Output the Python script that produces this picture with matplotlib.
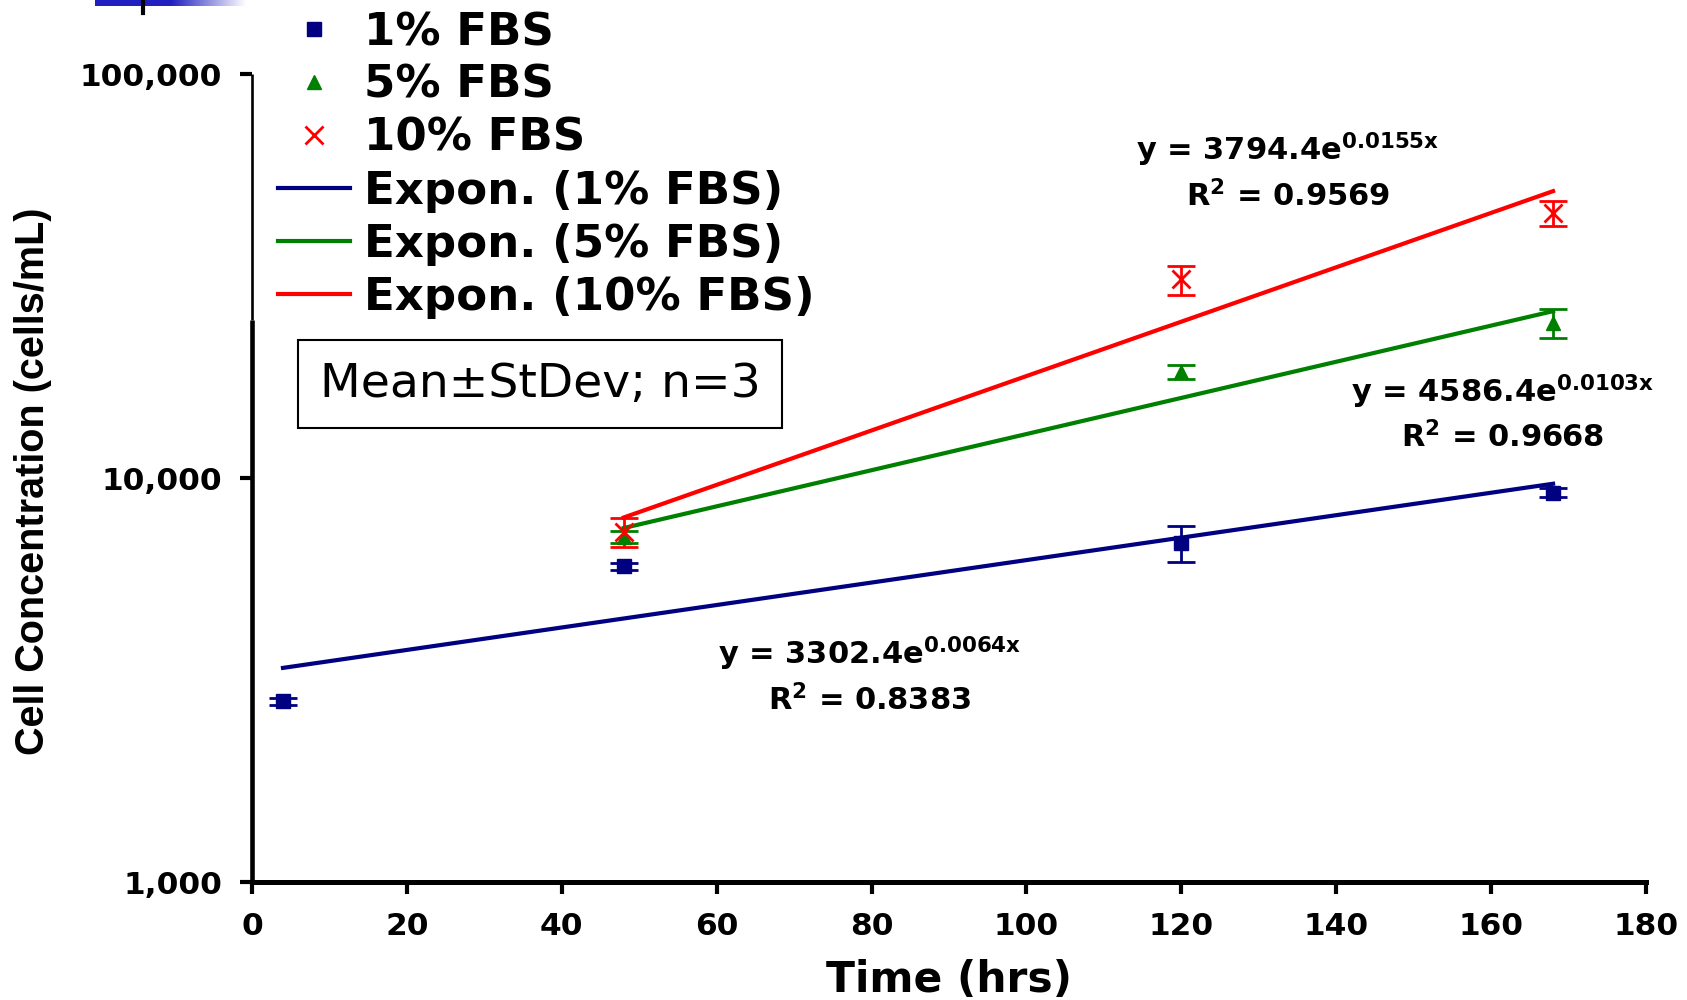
import numpy as np
import matplotlib
matplotlib.use("Agg")
import matplotlib.pyplot as plt
from matplotlib.colors import LinearSegmentedColormap

plt.rcParams['font.family'] = ['DejaVu Sans']
plt.rcParams['mathtext.fontset'] = 'dejavusans'

# measured cell concentrations (mean and stdev, n=3)
time_1 = [4, 48, 120, 168]
mean_1 = [2800, 6050, 6900, 9200]
sd_1 = [60, 120, 700, 250]

time_5 = [48, 120, 168]
mean_5 = [7150, 18300, 24200]
sd_5 = [250, 700, 2000]

time_10 = [48, 120, 168]
mean_10 = [7350, 31000, 45300]
sd_10 = [600, 2550, 3200]

# exponential trendlines as printed on the chart: y = a*exp(b*x)
fit_a = [3302.4, 4586.4, 3794.4]
fit_b = [0.0064, 0.0103, 0.0155]
fit_r2 = [0.8383, 0.9668, 0.9569]
fit_start = [4, 48, 48]
fit_end = [168, 168, 168]

labels = ['1% FBS', '5% FBS', '10% FBS']
colors = ['#000080', '#008000', '#FF0000']
markers = ['s', '^', 'x']

W, H = 1687, 1000
fig = plt.figure(figsize=(W / 100, H / 100), dpi=100)
# axes box: x 0..180 -> px 252..1646, y 1e3..1e5 -> px 882..74
ax = fig.add_axes([252 / W, 1 - 882 / H, 1394 / W, 808 / H])

times = [time_1, time_5, time_10]
means = [mean_1, mean_5, mean_10]
sds = [sd_1, sd_5, sd_10]

point_handles = []
for t, m, s, c, mk, lab in zip(times, means, sds, colors, markers, labels):
    ax.errorbar(t, m, yerr=s, fmt='none', ecolor=c, elinewidth=2,
                capsize=10, capthick=2, zorder=3)
    if mk == 'x':
        h, = ax.plot(t, m, linestyle='none', marker=mk, color=c,
                     markersize=13, markeredgewidth=2, label=lab, zorder=4)
    else:
        h, = ax.plot(t, m, linestyle='none', marker=mk, color=c,
                     markersize=10.5, label=lab, zorder=4)
    point_handles.append(h)

line_handles = []
for a, b, x0, x1, c, lab in zip(fit_a, fit_b, fit_start, fit_end, colors, labels):
    xs = np.linspace(x0, x1, 200)
    h, = ax.plot(xs, a * np.exp(b * xs), color=c, linewidth=3,
                 label='Expon. (' + lab + ')', zorder=2)
    line_handles.append(h)

ax.set_yscale('log')
ax.set_xlim(0, 180)
ax.set_ylim(1000, 100000)
ax.set_xticks(np.arange(0, 181, 20))
ax.set_yticks([1000, 10000, 100000])
ax.set_yticklabels(['1,000', '10,000', '100,000'])
ax.yaxis.set_minor_locator(matplotlib.ticker.NullLocator())

for lbl in ax.get_xticklabels() + ax.get_yticklabels():
    lbl.set_fontweight('bold')
    lbl.set_fontsize(22.5)

ax.tick_params(axis='both', direction='out', length=8.5, width=3)
ax.tick_params(axis='x', pad=13)
ax.tick_params(axis='y', pad=13)
ax.spines['top'].set_visible(False)
ax.spines['right'].set_visible(False)
ax.spines['bottom'].set_linewidth(3.6)
ax.spines['left'].set_visible(False)
# left axis line: thin at the top, thicker below
ax.plot([0, 0], [0, 0.696], transform=ax.transAxes, color='black',
        linewidth=3.3, clip_on=False, solid_capstyle='butt')
ax.plot([0, 0], [0.696, 1.0], transform=ax.transAxes, color='black',
        linewidth=1.9, clip_on=False, solid_capstyle='butt')

fig.text(949 / W, 1 - 992 / H, 'Time (hrs)', fontsize=30.5,
         fontweight='bold', ha='center', va='baseline')
fig.text(33 / W, 1 - 481 / H, 'Cell Concentration (cells/mL)',
         family=['Liberation Sans', 'DejaVu Sans'], fontsize=28.5,
         fontweight='bold', rotation=90, ha='center', va='center')

leg = ax.legend(handles=point_handles + line_handles, loc='upper left',
                bbox_to_anchor=(278 / W, 1 - 11 / H),
                bbox_transform=fig.transFigure, frameon=False,
                prop={'weight': 'bold', 'size': 32.5}, handlelength=1.6,
                handletextpad=0.3, labelspacing=0.22, numpoints=1,
                borderpad=0, borderaxespad=0)

ax.text(0.2066, 0.616, 'Mean\u00b1StDev; n=3', transform=ax.transAxes,
        fontsize=34, ha='center', va='center',
        bbox=dict(boxstyle='square,pad=0.46', facecolor='white',
                  edgecolor='black', linewidth=1.5))

# trendline equations
eq_pos = [(0.443, 0.282), (0.897, 0.607), (0.743, 0.906)]
for a, b, r2, (px, py) in zip(fit_a, fit_b, fit_r2, eq_pos):
    ax.text(px, py, r'y = %.1fe$^{\mathbf{%.4fx}}$' % (a, b),
            transform=ax.transAxes, fontsize=22, fontweight='bold',
            ha='center', va='center')
    ax.text(px, py - 0.057, r'R$^{\mathbf{2}}$ = %.4f' % r2,
            transform=ax.transAxes, fontsize=22, fontweight='bold',
            ha='center', va='center')

# small blue bar left over at the top edge
cmap = LinearSegmentedColormap.from_list('bar', ['#2020c0', '#2020c0', 'white'])
bar_ax = fig.add_axes([95 / W, 1 - 6 / H, 152 / W, 6 / H])
bar_ax.imshow(np.linspace(0, 1, 100).reshape(1, -1), cmap=cmap,
              aspect='auto')
bar_ax.axis('off')
fig.add_artist(plt.Line2D([143 / W, 143 / W], [1 - 13 / H, 1],
                          color='black', linewidth=3))

fig.savefig('out.png', dpi=100)
